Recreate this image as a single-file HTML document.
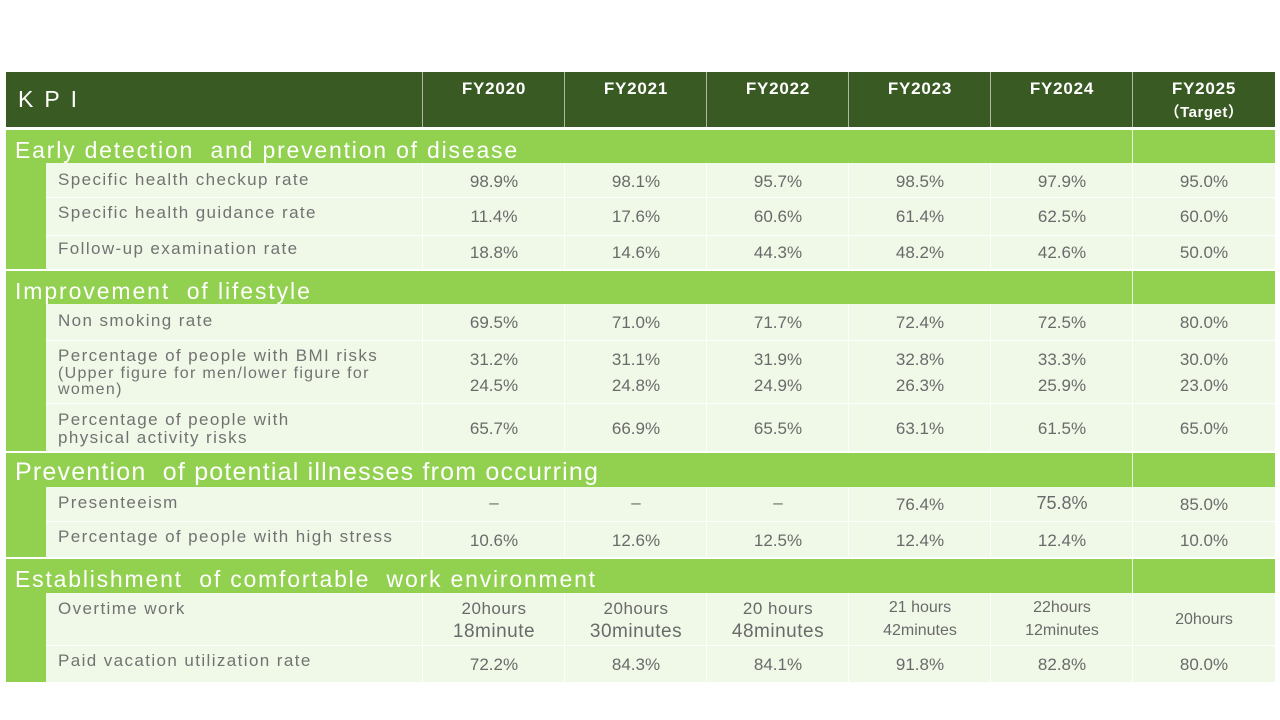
<!DOCTYPE html>
<html><head><meta charset="utf-8">
<style>
html,body{margin:0;padding:0;background:#fff;}
body{width:1280px;height:720px;position:relative;overflow:hidden;font-family:"Liberation Sans","Noto Sans CJK JP",sans-serif;}
.a{position:absolute;}
.hdr{background:#3a5a24;}
.sec{background:#92d050;}
.sub{background:#f0f9e8;}
.vl{position:absolute;width:1px;}
.hl{position:absolute;height:1px;background:#ffffff;}
.fy{position:absolute;width:142px;text-align:center;color:#fff;font-weight:bold;font-size:17px;letter-spacing:0.8px;line-height:20px;}
.st{position:absolute;left:15px;color:#fff;font-size:23px;letter-spacing:1.8px;line-height:26px;white-space:pre;}
.lb{position:absolute;left:58px;color:#727272;font-size:17px;letter-spacing:1.4px;line-height:20px;white-space:nowrap;}
.v{position:absolute;width:142px;text-align:center;color:#6a6a6a;font-size:17px;line-height:20px;white-space:nowrap;}
.g{position:absolute;width:1px;background:#fbfefa;}
</style></head><body>

<!-- header -->
<div class="a hdr" style="left:6px;top:72px;width:1269px;height:55px;"></div>
<div class="vl" style="left:422px;top:72px;height:55px;background:#aeb8a4;"></div>
<div class="vl" style="left:564px;top:72px;height:55px;background:#aeb8a4;"></div>
<div class="vl" style="left:706px;top:72px;height:55px;background:#aeb8a4;"></div>
<div class="vl" style="left:848px;top:72px;height:55px;background:#aeb8a4;"></div>
<div class="vl" style="left:990px;top:72px;height:55px;background:#aeb8a4;"></div>
<div class="vl" style="left:1132px;top:72px;height:55px;background:#aeb8a4;"></div>
<div class="a" style="left:18px;top:86px;color:#fff;font-size:23px;line-height:26px;letter-spacing:11px;">KPI</div>
<div class="fy" style="left:423px;top:79px;">FY2020</div>
<div class="fy" style="left:565px;top:79px;">FY2021</div>
<div class="fy" style="left:707px;top:79px;">FY2022</div>
<div class="fy" style="left:849px;top:79px;">FY2023</div>
<div class="fy" style="left:991px;top:79px;">FY2024</div>
<div class="fy" style="left:1133px;top:79px;">FY2025</div>
<div class="a" style="left:1133px;top:103px;width:142px;text-align:center;color:#fff;font-size:15px;line-height:20px;font-weight:bold;letter-spacing:0.5px;">（Target）</div>

<!-- section backgrounds -->
<div class="a sec" style="left:6px;top:130px;width:1269px;height:139px;"></div>
<div class="a sec" style="left:6px;top:271px;width:1269px;height:180px;"></div>
<div class="a sec" style="left:6px;top:453px;width:1269px;height:104px;"></div>
<div class="a sec" style="left:6px;top:559px;width:1269px;height:123px;"></div>

<!-- sub row backgrounds -->
<div class="a sub" style="left:46px;top:163px;width:1229px;height:106px;"></div>
<div class="a sub" style="left:46px;top:304px;width:1229px;height:147px;"></div>
<div class="a sub" style="left:46px;top:487px;width:1229px;height:70px;"></div>
<div class="a sub" style="left:46px;top:593px;width:1229px;height:89px;"></div>

<!-- separators in section rows (target column) -->
<div class="vl" style="left:1132px;top:130px;height:33px;background:#eaf5dd;"></div>
<div class="vl" style="left:1132px;top:271px;height:33px;background:#eaf5dd;"></div>
<div class="vl" style="left:1132px;top:453px;height:34px;background:#eaf5dd;"></div>
<div class="vl" style="left:1132px;top:559px;height:34px;background:#eaf5dd;"></div>

<!-- faint grid in data rows, group 1 -->
<div class="g" style="left:422px;top:163px;height:106px;"></div>
<div class="g" style="left:564px;top:163px;height:106px;"></div>
<div class="g" style="left:706px;top:163px;height:106px;"></div>
<div class="g" style="left:848px;top:163px;height:106px;"></div>
<div class="g" style="left:990px;top:163px;height:106px;"></div>
<div class="g" style="left:1132px;top:163px;height:106px;"></div>
<!-- group 2 -->
<div class="g" style="left:422px;top:304px;height:147px;"></div>
<div class="g" style="left:564px;top:304px;height:147px;"></div>
<div class="g" style="left:706px;top:304px;height:147px;"></div>
<div class="g" style="left:848px;top:304px;height:147px;"></div>
<div class="g" style="left:990px;top:304px;height:147px;"></div>
<div class="g" style="left:1132px;top:304px;height:147px;"></div>
<!-- group 3 -->
<div class="g" style="left:422px;top:487px;height:70px;"></div>
<div class="g" style="left:564px;top:487px;height:70px;"></div>
<div class="g" style="left:706px;top:487px;height:70px;"></div>
<div class="g" style="left:848px;top:487px;height:70px;"></div>
<div class="g" style="left:990px;top:487px;height:70px;"></div>
<div class="g" style="left:1132px;top:487px;height:70px;"></div>
<!-- group 4 -->
<div class="g" style="left:422px;top:593px;height:89px;"></div>
<div class="g" style="left:564px;top:593px;height:89px;"></div>
<div class="g" style="left:706px;top:593px;height:89px;"></div>
<div class="g" style="left:848px;top:593px;height:89px;"></div>
<div class="g" style="left:990px;top:593px;height:89px;"></div>
<div class="g" style="left:1132px;top:593px;height:89px;"></div>

<div class="hl" style="left:46px;top:197px;width:1229px;"></div>
<div class="hl" style="left:46px;top:235px;width:1229px;"></div>
<div class="hl" style="left:46px;top:340px;width:1229px;"></div>
<div class="hl" style="left:46px;top:403px;width:1229px;"></div>
<div class="hl" style="left:46px;top:521px;width:1229px;"></div>
<div class="hl" style="left:46px;top:645px;width:1229px;"></div>

<!-- section titles -->
<div class="st" style="top:137px;">Early detection  and prevention of disease</div>
<div class="st" style="top:278px;letter-spacing:1.9px;">Improvement  of lifestyle</div>
<div class="st" style="top:458px;font-size:25px;letter-spacing:1.2px;line-height:28px;">Prevention  of potential illnesses from occurring</div>
<div class="st" style="top:566px;letter-spacing:1.8px;">Establishment  of comfortable  work environment</div>

<!-- labels -->
<div class="lb" style="top:170px;">Specific health checkup rate</div>
<div class="lb" style="top:203px;">Specific health guidance rate</div>
<div class="lb" style="top:239px;">Follow-up examination rate</div>
<div class="lb" style="top:311px;">Non smoking rate</div>
<div class="lb" style="top:346px;">Percentage of people with BMI risks</div>
<div class="lb" style="top:365px;font-size:16px;letter-spacing:1.3px;line-height:18px;">(Upper figure for men/lower figure for</div>
<div class="lb" style="top:381px;font-size:16px;letter-spacing:1.3px;line-height:18px;">women)</div>
<div class="lb" style="top:410px;">Percentage of people with</div>
<div class="lb" style="top:428px;">physical activity risks</div>
<div class="lb" style="top:493px;">Presenteeism</div>
<div class="lb" style="top:527px;">Percentage of people with high stress</div>
<div class="lb" style="top:599px;">Overtime work</div>
<div class="lb" style="top:651px;">Paid vacation utilization rate</div>

<!-- values -->
<div class="v" style="left:423px;top:172px;">98.9%</div>
<div class="v" style="left:565px;top:172px;">98.1%</div>
<div class="v" style="left:707px;top:172px;">95.7%</div>
<div class="v" style="left:849px;top:172px;">98.5%</div>
<div class="v" style="left:991px;top:172px;">97.9%</div>
<div class="v" style="left:1133px;top:172px;">95.0%</div>

<div class="v" style="left:423px;top:207px;">11.4%</div>
<div class="v" style="left:565px;top:207px;">17.6%</div>
<div class="v" style="left:707px;top:207px;">60.6%</div>
<div class="v" style="left:849px;top:207px;">61.4%</div>
<div class="v" style="left:991px;top:207px;">62.5%</div>
<div class="v" style="left:1133px;top:207px;">60.0%</div>

<div class="v" style="left:423px;top:243px;">18.8%</div>
<div class="v" style="left:565px;top:243px;">14.6%</div>
<div class="v" style="left:707px;top:243px;">44.3%</div>
<div class="v" style="left:849px;top:243px;">48.2%</div>
<div class="v" style="left:991px;top:243px;">42.6%</div>
<div class="v" style="left:1133px;top:243px;">50.0%</div>

<div class="v" style="left:423px;top:313px;">69.5%</div>
<div class="v" style="left:565px;top:313px;">71.0%</div>
<div class="v" style="left:707px;top:313px;">71.7%</div>
<div class="v" style="left:849px;top:313px;">72.4%</div>
<div class="v" style="left:991px;top:313px;">72.5%</div>
<div class="v" style="left:1133px;top:313px;">80.0%</div>

<div class="v" style="left:423px;top:350px;">31.2%</div>
<div class="v" style="left:565px;top:350px;">31.1%</div>
<div class="v" style="left:707px;top:350px;">31.9%</div>
<div class="v" style="left:849px;top:350px;">32.8%</div>
<div class="v" style="left:991px;top:350px;">33.3%</div>
<div class="v" style="left:1133px;top:350px;">30.0%</div>

<div class="v" style="left:423px;top:376px;">24.5%</div>
<div class="v" style="left:565px;top:376px;">24.8%</div>
<div class="v" style="left:707px;top:376px;">24.9%</div>
<div class="v" style="left:849px;top:376px;">26.3%</div>
<div class="v" style="left:991px;top:376px;">25.9%</div>
<div class="v" style="left:1133px;top:376px;">23.0%</div>

<div class="v" style="left:423px;top:419px;">65.7%</div>
<div class="v" style="left:565px;top:419px;">66.9%</div>
<div class="v" style="left:707px;top:419px;">65.5%</div>
<div class="v" style="left:849px;top:419px;">63.1%</div>
<div class="v" style="left:991px;top:419px;">61.5%</div>
<div class="v" style="left:1133px;top:419px;">65.0%</div>

<div class="v" style="left:423px;top:493px;">–</div>
<div class="v" style="left:565px;top:493px;">–</div>
<div class="v" style="left:707px;top:493px;">–</div>
<div class="v" style="left:849px;top:495px;">76.4%</div>
<div class="v" style="left:991px;top:493px;font-size:18px;">75.8%</div>
<div class="v" style="left:1133px;top:495px;">85.0%</div>

<div class="v" style="left:423px;top:531px;">10.6%</div>
<div class="v" style="left:565px;top:531px;">12.6%</div>
<div class="v" style="left:707px;top:531px;">12.5%</div>
<div class="v" style="left:849px;top:531px;">12.4%</div>
<div class="v" style="left:991px;top:531px;">12.4%</div>
<div class="v" style="left:1133px;top:531px;">10.0%</div>

<div class="v" style="left:423px;top:599px;font-size:17px;letter-spacing:0.5px;">20hours</div>
<div class="v" style="left:423px;top:621px;font-size:19px;line-height:22px;letter-spacing:0.5px;">18minute</div>
<div class="v" style="left:565px;top:599px;font-size:17px;letter-spacing:0.5px;">20hours</div>
<div class="v" style="left:565px;top:621px;font-size:19px;line-height:22px;letter-spacing:0.5px;">30minutes</div>
<div class="v" style="left:707px;top:599px;font-size:17px;letter-spacing:0.5px;">20 hours</div>
<div class="v" style="left:707px;top:621px;font-size:19px;line-height:22px;letter-spacing:0.5px;">48minutes</div>
<div class="v" style="left:849px;top:598px;font-size:16px;">21 hours</div>
<div class="v" style="left:849px;top:621px;font-size:16px;">42minutes</div>
<div class="v" style="left:991px;top:598px;font-size:16px;">22hours</div>
<div class="v" style="left:991px;top:621px;font-size:16px;">12minutes</div>
<div class="v" style="left:1133px;top:610px;font-size:16px;">20hours</div>

<div class="v" style="left:423px;top:655px;">72.2%</div>
<div class="v" style="left:565px;top:655px;">84.3%</div>
<div class="v" style="left:707px;top:655px;">84.1%</div>
<div class="v" style="left:849px;top:655px;">91.8%</div>
<div class="v" style="left:991px;top:655px;">82.8%</div>
<div class="v" style="left:1133px;top:655px;">80.0%</div>

</body></html>
